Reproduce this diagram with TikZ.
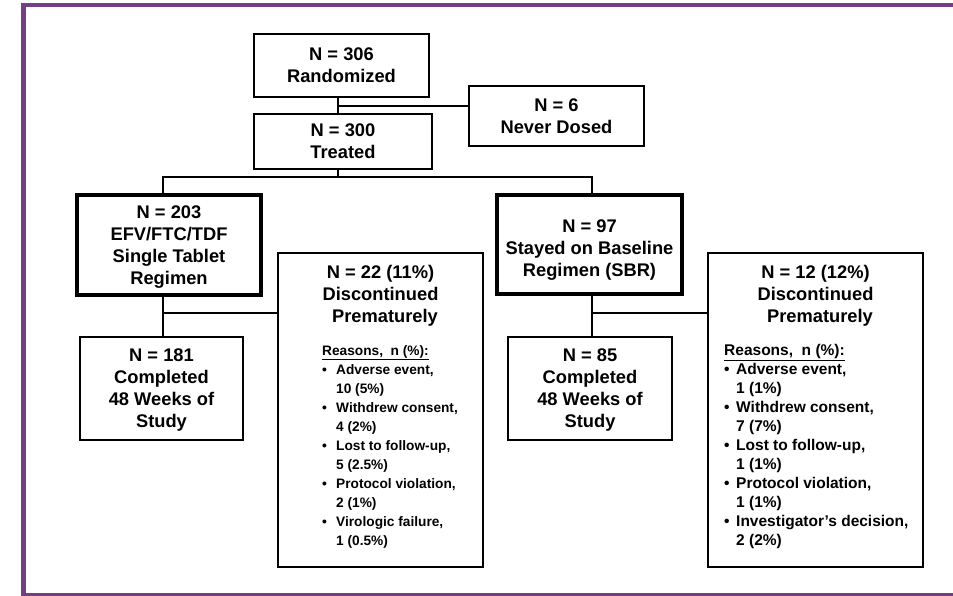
\documentclass[tikz,border=0pt]{standalone}
\usepackage{fontspec}
\setmainfont{Liberation Sans}
\usetikzlibrary{calc,positioning}
\definecolor{frmpurple}{RGB}{118,60,134}
\tikzset{
  flowbox/.style={draw=black,line width=1.4pt,fill=white,align=center,inner sep=0pt,font=\mainfnt},
  armbox/.style={flowbox,line width=4pt},
  headtext/.style={font=\mainfnt,align=center,inner sep=0pt},
  rsntext/.style={font=\rsnfnt,align=left,inner sep=0pt,anchor=north west},
  linkline/.style={draw=black,line width=1.6pt},
  frameline/.style={draw=frmpurple,line width=4.5pt},
}
\newcommand{\mainfnt}{\fontsize{18.3}{22}\selectfont\bfseries}
\newcommand{\rsnfnt}{\fontsize{13.7}{19}\selectfont\bfseries}
\newcommand{\rsnbigfnt}{\fontsize{15.5}{19}\selectfont\bfseries}
\newcommand{\rsn}[3]{\makebox[#1][l]{\textbullet}#2\\\hspace*{#1}#3}

\begin{document}
\begin{tikzpicture}[x=1pt,y=-1pt]
        \useasboundingbox (0,0) rectangle (953,596);
        \draw[frameline] (953,5) -- (23.5,5) -- (23.5,595) -- (953,595);
        \node[flowbox,minimum width=175pt,minimum height=63pt] (rand) at (341.5,65.5) {N = 306\\Randomized};
        \node[flowbox,minimum width=175pt,minimum height=60pt] (never) at (556.5,116) {N = 6\\Never Dosed};
        \node[flowbox,minimum width=178pt,minimum height=55pt] (treat) at (343,141.5) {N = 300\\Treated};
        \node[armbox,minimum width=184pt,minimum height=100pt] (efv) at (169,245) {\rule{0pt}{17pt}N = 203\\EFV/FTC/TDF\\Single Tablet\\Regimen};
        \node[armbox,minimum width=185pt,minimum height=99pt] (sbr) at (589.5,244.5) {\rule{0pt}{23pt}N = 97\\Stayed on Baseline\\Regimen (SBR)};
        \node[flowbox,minimum width=163pt,minimum height=103pt] (done1) at (161.5,388.5) {\rule{0pt}{15pt}N = 181\\Completed\\48 Weeks of\\Study};
        \node[flowbox,minimum width=164pt,minimum height=103pt] (done2) at (590,388.5) {\rule{0pt}{15pt}N = 85\\Completed\\48 Weeks of\\Study};
        \node[flowbox,minimum width=205pt,minimum height=314pt] (stop1) at (380.5,410) {};
        \node[flowbox,minimum width=215pt,minimum height=314pt] (stop2) at (815.5,410) {};
        \node[headtext] (stop1h) at (380.5,296) {N = 22 (11\%)\\Discontinued\\\hspace*{9pt}Prematurely};
        \node[headtext] (stop2h) at (815.5,296) {N = 12 (12\%)\\Discontinued\\\hspace*{9pt}Prematurely};
        \node[rsntext] (stop1r) at (322,345) {\underline{Reasons,\ \ n (\%):}\\
          \rsn{14pt}{Adverse event,}{10 (5\%)}\\
          \rsn{14pt}{Withdrew consent,}{4 (2\%)}\\
          \rsn{14pt}{Lost to follow-up,}{5 (2.5\%)}\\
          \rsn{14pt}{Protocol violation,}{2 (1\%)}\\
          \rsn{14pt}{Virologic failure,}{1 (0.5\%)}};
        \node[rsntext,font=\rsnbigfnt] (stop2r) at (724,344) {\underline{Reasons,\ \ n (\%):}\\
          \rsn{12pt}{Adverse event,}{1 (1\%)}\\
          \rsn{12pt}{Withdrew consent,}{7 (7\%)}\\
          \rsn{12pt}{Lost to follow-up,}{1 (1\%)}\\
          \rsn{12pt}{Protocol violation,}{1 (1\%)}\\
          \rsn{12pt}{Investigator’s decision,}{2 (2\%)}};
        \coordinate (j1) at (338,106);
        \coordinate (j2) at (338,177);
        \coordinate (j3) at (163,177);
        \coordinate (j4) at (592,177);
        \coordinate (j5) at (163,313);
        \coordinate (j6) at (592,313);
        \draw[linkline] (rand.south -| j1) -- (treat.north -| j1);
        \draw[linkline] (j1) -- (j1 -| never.west);
        \draw[linkline] (treat.south -| j2) -- (j2);
        \draw[linkline] (efv.north -| j3) -- (j3) -- (j4) -- (sbr.north -| j4);
        \draw[linkline] (efv.south -| j5) -- (done1.north -| j5);
        \draw[linkline] (j5) -- (j5 -| stop1.west);
        \draw[linkline] (sbr.south -| j6) -- (done2.north -| j6);
        \draw[linkline] (j6) -- (j6 -| stop2.west);
      \end{tikzpicture}
\end{document}
